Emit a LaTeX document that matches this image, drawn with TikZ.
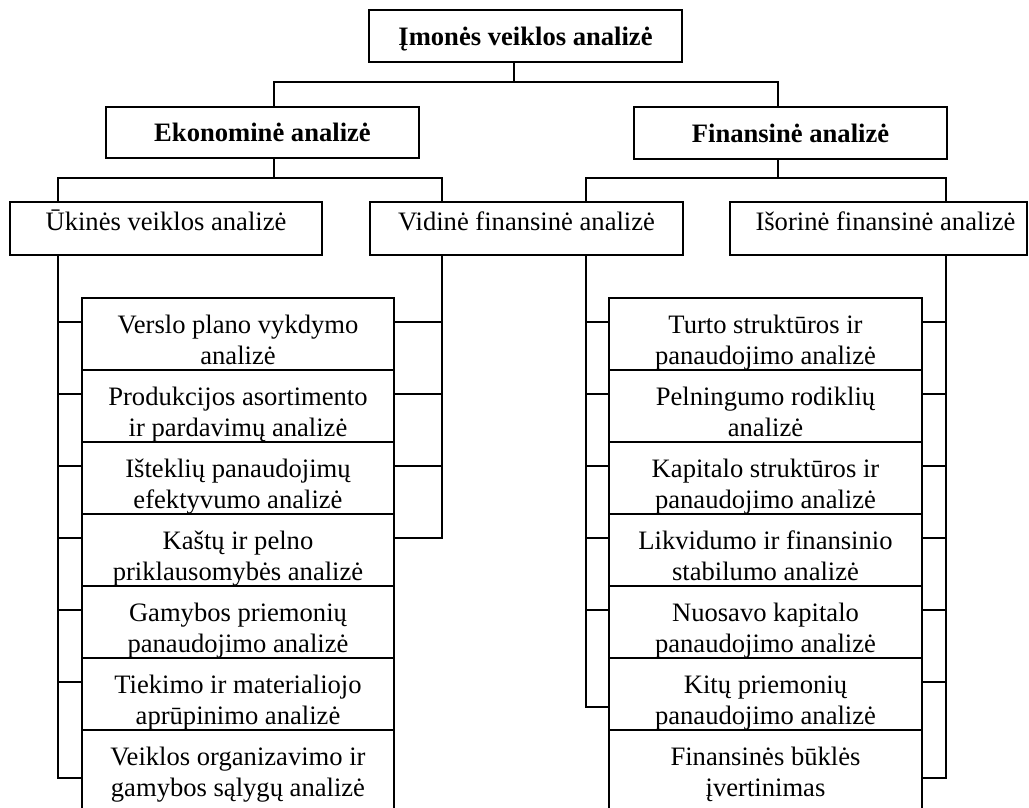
\documentclass[tikz,border=0pt]{standalone}
\usepackage{fontspec}
\setmainfont{Liberation Serif}
\begin{document}
\begin{tikzpicture}[x=1pt,y=-1pt,line width=1.7pt,
  every node/.style={inner sep=0pt,outer sep=0pt},
  bodyfont/.style={font=\fontsize{26.6}{31}\selectfont},
  headbox/.style={draw,anchor=north west,minimum width=313pt,minimum height=52pt,
    font=\fontsize{26.6}{31}\selectfont\bfseries,text height=18pt,text depth=0pt},
  subbox/.style={draw,anchor=north west,minimum height=53pt,bodyfont,
    text height=18pt,text depth=15pt},
  cell/.style={draw,anchor=north west,minimum height=72pt},
  celltext/.style={anchor=north,align=center,bodyfont}
]
\useasboundingbox (0,0) rectangle (1029,807);

% top and first level
\node[headbox] (imone) at (369,10) {Įmonės veiklos analizė};
\node[headbox,minimum height=51pt] (ekon) at (106,107) {Ekonominė analizė};
\node[headbox] (fin) at (634,107) {Finansinė analizė};

% second level
\node[subbox,minimum width=312pt] (ukin) at (10,202) {Ūkinės veiklos analizė};
\node[subbox,minimum width=313pt] (vid) at (370,202) {Vidinė finansinė analizė};
\node[subbox,minimum width=297pt] (isor) at (730,202) {\hspace*{14pt}Išorinė finansinė analizė};

% left column of analyses
\node[cell,minimum width=312pt] (L1) at (82,298) {};
\node[cell,minimum width=312pt] (L2) at (82,370) {};
\node[cell,minimum width=312pt] (L3) at (82,442) {};
\node[cell,minimum width=312pt] (L4) at (82,514) {};
\node[cell,minimum width=312pt] (L5) at (82,586) {};
\node[cell,minimum width=312pt] (L6) at (82,658) {};
\node[cell,minimum width=312pt,minimum height=80pt] (L7) at (82,730) {};
\node[celltext] (L1t) at (L1.north) {\rule{0pt}{35pt}Verslo plano vykdymo\\analizė};
\node[celltext] (L2t) at (L2.north) {\rule{0pt}{35pt}Produkcijos asortimento\\ir pardavimų analizė};
\node[celltext] (L3t) at (L3.north) {\rule{0pt}{35pt}Išteklių panaudojimų\\efektyvumo analizė};
\node[celltext] (L4t) at (L4.north) {\rule{0pt}{35pt}Kaštų ir pelno\\priklausomybės analizė};
\node[celltext] (L5t) at (L5.north) {\rule{0pt}{35pt}Gamybos priemonių\\panaudojimo analizė};
\node[celltext] (L6t) at (L6.north) {\rule{0pt}{35pt}Tiekimo ir materialiojo\\aprūpinimo analizė};
\node[celltext] (L7t) at (L7.north) {\rule{0pt}{35pt}Veiklos organizavimo ir\\gamybos sąlygų analizė};

% right column of analyses
\node[cell,minimum width=313pt] (R1) at (609,298) {};
\node[cell,minimum width=313pt] (R2) at (609,370) {};
\node[cell,minimum width=313pt] (R3) at (609,442) {};
\node[cell,minimum width=313pt] (R4) at (609,514) {};
\node[cell,minimum width=313pt] (R5) at (609,586) {};
\node[cell,minimum width=313pt] (R6) at (609,658) {};
\node[cell,minimum width=313pt,minimum height=80pt] (R7) at (609,730) {};
\node[celltext] (R1t) at (R1.north) {\rule{0pt}{35pt}Turto struktūros ir\\panaudojimo analizė};
\node[celltext] (R2t) at (R2.north) {\rule{0pt}{35pt}Pelningumo rodiklių\\analizė};
\node[celltext] (R3t) at (R3.north) {\rule{0pt}{35pt}Kapitalo struktūros ir\\panaudojimo analizė};
\node[celltext] (R4t) at (R4.north) {\rule{0pt}{35pt}Likvidumo ir finansinio\\stabilumo analizė};
\node[celltext] (R5t) at (R5.north) {\rule{0pt}{35pt}Nuosavo kapitalo\\panaudojimo analizė};
\node[celltext] (R6t) at (R6.north) {\rule{0pt}{35pt}Kitų priemonių\\panaudojimo analizė};
\node[celltext] (R7t) at (R7.north) {\rule{0pt}{35pt}Finansinės būklės\\įvertinimas};

% tree connectors
\coordinate (j0) at (514,82);
\draw (imone.south -| j0) -- (j0);
\draw (ekon.north -| 274,0) |- (j0) -| (fin.north -| 778,0);

\coordinate (j1) at (274,178);
\draw (ekon.south -| j1) -- (j1);
\draw (ukin.north -| 58,0) |- (j1) -| (vid.north -| 442,0);

\coordinate (j2) at (778,178);
\draw (fin.south -| j2) -- (j2);
\draw (vid.north -| 586,0) |- (j2) -| (isor.north -| 946,0);

% spines with ticks into the columns
\draw (ukin.south -| 58,0) |- ([yshift=-48pt]L7.north west);
\foreach \i in {1,...,6} \draw ([yshift=-24pt]L\i.north west) -- +(-24,0);

\draw (vid.south -| 442,0) |- ([yshift=-24pt]L4.north east);
\foreach \i in {1,2,3} \draw ([yshift=-24pt]L\i.north east) -- +(48,0);

\draw (vid.south -| 586,0) |- ([yshift=-49pt]R6.north west);
\foreach \i in {1,...,5} \draw ([yshift=-24pt]R\i.north west) -- +(-23,0);

\draw (isor.south -| 946,0) |- ([yshift=-48pt]R7.north east);
\foreach \i in {1,...,6} \draw ([yshift=-24pt]R\i.north east) -- +(24,0);
\end{tikzpicture}
\end{document}
